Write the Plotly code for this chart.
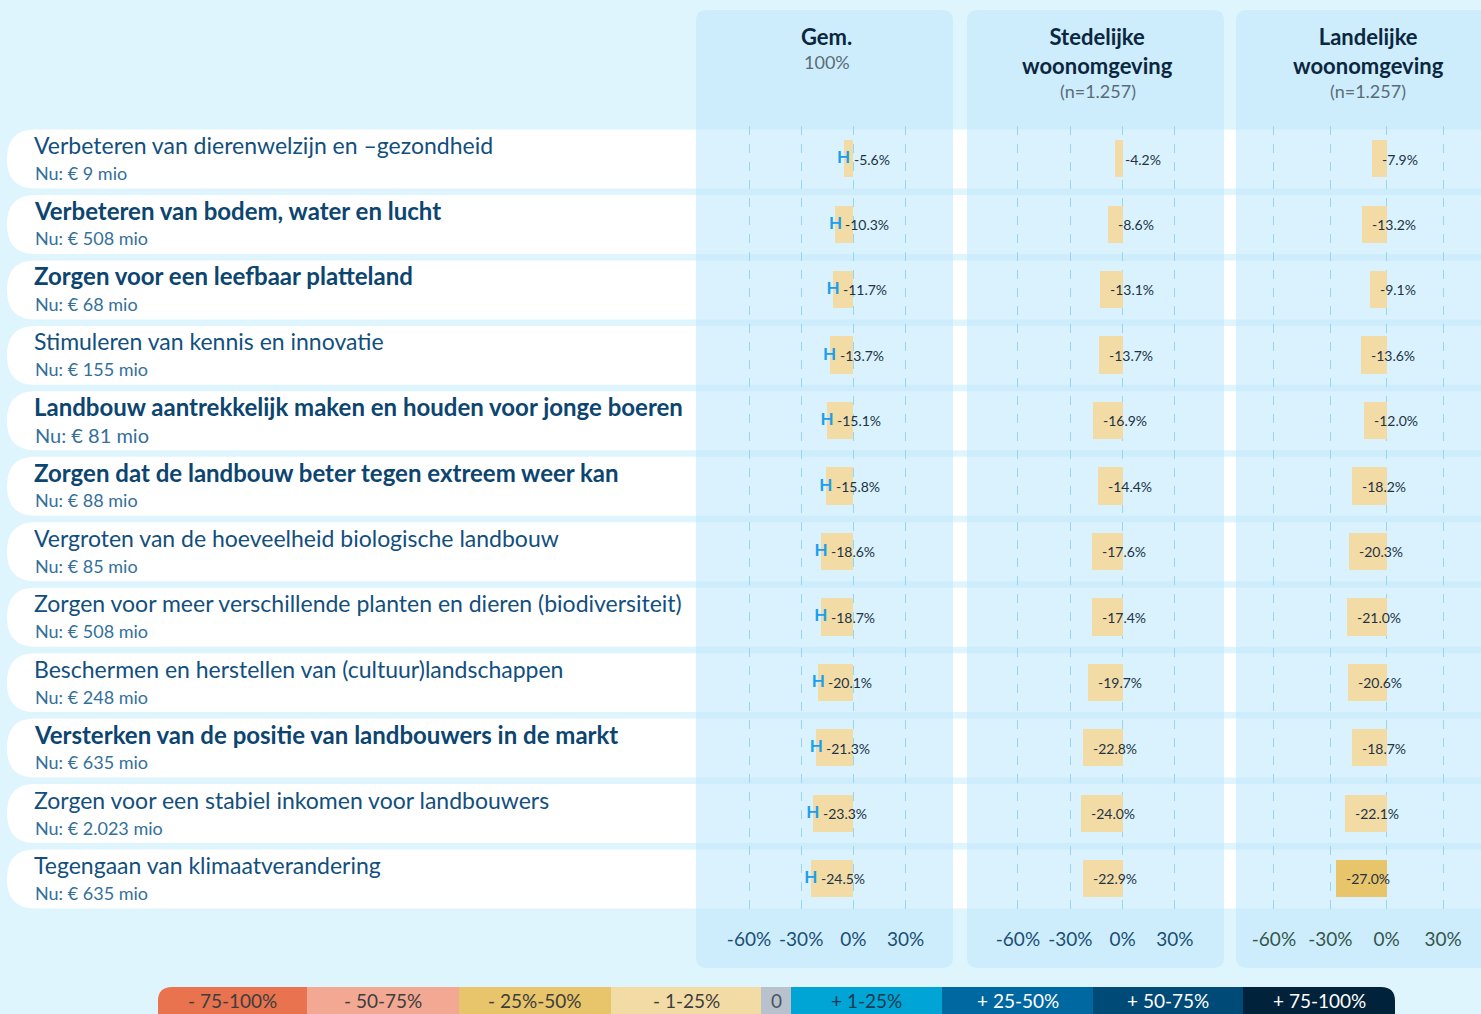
import plotly.graph_objects as go

W, H = 1481, 1014
FONT = "Lato"

# ---- data ----
doelen = [
    "Verbeteren van dierenwelzijn en –gezondheid",
    "Verbeteren van bodem, water en lucht",
    "Zorgen voor een leefbaar platteland",
    "Stimuleren van kennis en innovatie",
    "Landbouw aantrekkelijk maken en houden voor jonge boeren",
    "Zorgen dat de landbouw beter tegen extreem weer kan",
    "Vergroten van de hoeveelheid biologische landbouw",
    "Zorgen voor meer verschillende planten en dieren (biodiversiteit)",
    "Beschermen en herstellen van (cultuur)landschappen",
    "Versterken van de positie van landbouwers in de markt",
    "Zorgen voor een stabiel inkomen voor landbouwers",
    "Tegengaan van klimaatverandering",
]
budget_mio = [9, 508, 68, 155, 81, 88, 85, 508, 248, 635, 2023, 635]

gem = [-5.6, -10.3, -11.7, -13.7, -15.1, -15.8, -18.6, -18.7, -20.1, -21.3, -23.3, -24.5]
stedelijk = [-4.2, -8.6, -13.1, -13.7, -16.9, -14.4, -17.6, -17.4, -19.7, -22.8, -24.0, -22.9]
landelijk = [-7.9, -13.2, -9.1, -13.6, -12.0, -18.2, -20.3, -21.0, -20.6, -18.7, -22.1, -27.0]

kolommen = ["Gem.", "Stedelijke<br>woonomgeving", "Landelijke<br>woonomgeving"]
kolom_sub = ["100%", "(n=1.257)", "(n=1.257)"]

tick_vals = [-60, -30, 0, 30]
tick_text = ["-60%", "-30%", "0%", "30%"]

legend_labels = ["- 75-100%", "- 50-75%", "- 25%-50%", "- 1-25%", "0",
                 "+ 1-25%", "+ 25-50%", "+ 50-75%", "+ 75-100%"]

# ---- styling ----
bold_rows = {1, 2, 4, 5, 9}
bin_colors = ["#e8734e", "#f2a893", "#e8c46a", "#f3dba6", "#b9c1cc",
              "#00a5d6", "#0068a0", "#004a77", "#00223a"]
legend_text_colors = ["#3d3d3d", "#3d3d3d", "#3d3d3d", "#3d3d3d", "#4a5560",
                      "#1d3a50", "white", "white", "white"]

BG = "#dff5fd"
PANEL = "#cdedfc"
PANEL_ROW = "#d9f2fe"


def px(x):
    return x / W


def py(y):
    return 1 - y / H


def bin_color(v):
    if v <= -75:
        return bin_colors[0]
    if v <= -50:
        return bin_colors[1]
    if v <= -25:
        return bin_colors[2]
    if v < 0:
        return bin_colors[3]
    if v == 0:
        return bin_colors[4]
    if v < 25:
        return bin_colors[5]
    if v < 50:
        return bin_colors[6]
    if v < 75:
        return bin_colors[7]
    return bin_colors[8]


def rounded_rect(x0, y0, x1, y1, r, left=True, right=True):
    # pixel coords -> paper path
    pts = []
    if left:
        pts.append(f"M{px(x0 + r)},{py(y0)}")
    else:
        pts.append(f"M{px(x0)},{py(y0)}")
    if right:
        pts.append(f"L{px(x1 - r)},{py(y0)} Q{px(x1)},{py(y0)} {px(x1)},{py(y0 + r)}")
        pts.append(f"L{px(x1)},{py(y1 - r)} Q{px(x1)},{py(y1)} {px(x1 - r)},{py(y1)}")
    else:
        pts.append(f"L{px(x1)},{py(y0)} L{px(x1)},{py(y1)}")
    if left:
        pts.append(f"L{px(x0 + r)},{py(y1)} Q{px(x0)},{py(y1)} {px(x0)},{py(y1 - r)}")
        pts.append(f"L{px(x0)},{py(y0 + r)} Q{px(x0)},{py(y0)} {px(x0 + r)},{py(y0)} Z")
    else:
        pts.append(f"L{px(x0)},{py(y1)} Z")
    return " ".join(pts)


# panel geometry (pixels) and axis ranges
panels = [
    dict(x0=696, x1=953, rng=[-90.5, 57.3], series=gem, axis="x", tick="#1a4f75"),
    dict(x0=967, x1=1224, rng=[-89.2, 58.1], series=stedelijk, axis="x2", tick="#1a4f75"),
    dict(x0=1236, x1=1496, rng=[-80.2, 50.2], series=landelijk, axis="x3", tick="#35574c"),
]
PANEL_TOP, PANEL_BOTTOM = 10, 968
ROW_TOP, ROW_BOTTOM = 126.3, 911.7
n = len(doelen)
rows = list(range(n))
HALF = 0.45

fig = go.Figure()
shapes = []
annotations = []

# white row bands
for i in rows:
    rx = px(28)
    x0, x1 = px(7), 1.0
    path = (f"M{x0 + rx},{i - HALF} L{x1},{i - HALF} L{x1},{i + HALF} "
            f"L{x0 + rx},{i + HALF} Q{x0},{i + HALF} {x0},{i} "
            f"Q{x0},{i - HALF} {x0 + rx},{i - HALF} Z")
    shapes.append(dict(type="path", path=path, xref="paper", yref="y",
                       fillcolor="white", line=dict(width=0), layer="below"))

# panels
for k, p in enumerate(panels):
    right_edge = min(p["x1"], W)
    shapes.append(dict(type="path", xref="paper", yref="paper",
                       path=rounded_rect(p["x0"], PANEL_TOP, right_edge, PANEL_BOTTOM, 11,
                                         right=(p["x1"] <= W)),
                       fillcolor=PANEL, line=dict(width=0), layer="below"))
    for i in rows:
        shapes.append(dict(type="rect", xref="paper", yref="y",
                           x0=px(p["x0"]), x1=px(right_edge), y0=i - HALF, y1=i + HALF,
                           fillcolor=PANEL_ROW, line=dict(width=0), layer="below"))

    cx = (p["x0"] + p["x1"]) / 2 + 2
    annotations.append(dict(xref="paper", yref="paper", x=px(cx), y=py(21),
                            xanchor="center", yanchor="top", showarrow=False,
                            text=f"<b>{kolommen[k]}</b>",
                            font=dict(family=FONT, size=22, color="#0b2740")))
    sub_y = 62 if k == 0 else 91
    annotations.append(dict(xref="paper", yref="paper", x=px(cx), y=py(sub_y),
                            xanchor="center", yanchor="middle", showarrow=False,
                            text=kolom_sub[k],
                            font=dict(family=FONT, size=18, color="#5b6b78")))

    fig.add_trace(go.Bar(
        x=p["series"], y=rows, orientation="h", width=0.57,
        marker=dict(color=[bin_color(v) for v in p["series"]], line=dict(width=0)),
        xaxis=p["axis"], yaxis="y", showlegend=False, hoverinfo="skip",
    ))
    for i, v in zip(rows, p["series"]):
        annotations.append(dict(xref=p["axis"], yref="y", x=v, y=i,
                                xanchor="left", yanchor="middle", xshift=8,
                                showarrow=False, text=f"{v:.1f}%",
                                font=dict(family=FONT, size=14, color="#1e3344")))

# "H" markers in the Gem. column
fig.add_trace(go.Scatter(
    x=gem, y=rows, mode="text", text=["<b>H</b>"] * n,
    textposition="middle center",
    textfont=dict(family=FONT, size=17, color="#1a9fee"),
    xaxis="x", yaxis="y", showlegend=False, hoverinfo="skip",
))

# row labels
for i in rows:
    title = doelen[i]
    if i in bold_rows:
        title = f"<b>{title}</b>"
    bedrag = f"{budget_mio[i]:,}".replace(",", ".")
    annotations.append(dict(xref="paper", yref="y", x=px(32), y=i, yshift=14,
                            xanchor="left", yanchor="middle", showarrow=False,
                            text=title,
                            font=dict(family=FONT, size=24 if i in bold_rows else 23,
                                      color="#0c4570" if i in bold_rows else "#124f7e")))
    annotations.append(dict(xref="paper", yref="y", x=px(33), y=i, yshift=-14,
                            xanchor="left", yanchor="middle", showarrow=False,
                            text=f"Nu: € {bedrag} mio",
                            font=dict(family=FONT, size=20 if i == 4 else 18,
                                      color="#33709a")))

# colour legend bar
edges = [158, 307, 459, 611, 761, 791, 942, 1093, 1243, 1395]
for j, lab in enumerate(legend_labels):
    x0, x1 = edges[j], edges[j + 1]
    shapes.append(dict(type="path", xref="paper", yref="paper",
                       path=rounded_rect(x0, 987, x1, 1030, 14,
                                         left=(j == 0), right=(j == len(legend_labels) - 1)),
                       fillcolor=bin_colors[j], line=dict(width=0), layer="below"))
    annotations.append(dict(xref="paper", yref="paper", x=px((x0 + x1) / 2), y=py(1000),
                            xanchor="center", yanchor="middle", showarrow=False,
                            text=lab,
                            font=dict(family=FONT, size=19, color=legend_text_colors[j])))

axis_common = dict(
    tickvals=tick_vals, ticktext=tick_text, showgrid=True, griddash="dash",
    gridcolor="#97d6f2", gridwidth=1, zeroline=False, showline=False,
    ticks="outside", ticklen=10, tickcolor="rgba(0,0,0,0)", fixedrange=True,
)
layout_axes = {}
for k, p in enumerate(panels):
    name = "xaxis" if k == 0 else f"xaxis{k + 1}"
    layout_axes[name] = dict(axis_common, domain=[px(p["x0"]), px(min(p["x1"], W))],
                             range=p["rng"], anchor="y",
                             tickfont=dict(family=FONT, size=19, color=p["tick"]))

fig.update_layout(
    width=W, height=H,
    margin=dict(l=0, r=0, t=0, b=0),
    paper_bgcolor=BG, plot_bgcolor="rgba(0,0,0,0)",
    yaxis=dict(domain=[py(ROW_BOTTOM), py(ROW_TOP)], range=[n - 0.5, -0.5],
               visible=False, fixedrange=True),
    shapes=shapes, annotations=annotations,
    bargap=0, **layout_axes,
)

fig.write_html("out.html", config={"displayModeBar": False},
               post_script="document.body.style.margin='0';document.body.style.overflow='hidden';")
